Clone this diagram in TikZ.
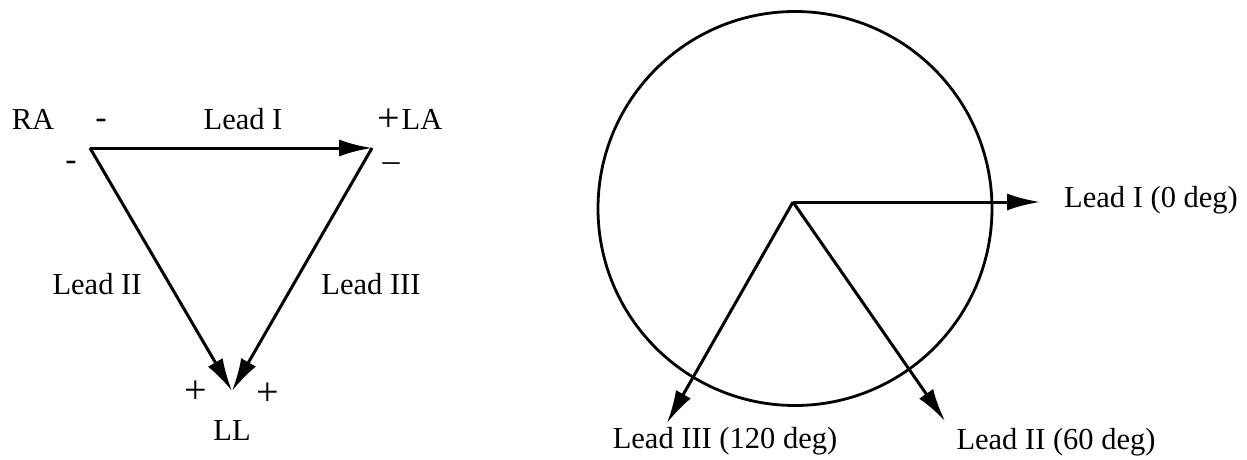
\documentclass[tikz,border=0pt]{standalone}
\usepackage{fontspec}
\setmainfont{Liberation Serif}
\usetikzlibrary{arrows.meta}
\begin{document}
\begin{tikzpicture}[x=1pt,y=-1pt,
  lbl/.style={inner sep=0pt,font=\fontsize{30.5}{36}\selectfont},
  sgn/.style={inner sep=0pt,font=\fontsize{34}{40}\selectfont},
  pls/.style={inner sep=0pt,font=\fontsize{40}{46}\selectfont},
  vec/.style={line width=3pt,-{Latex[length=33pt,width=17pt]}},
  ring/.style={line width=2.8pt}]
\useasboundingbox (0,0) rectangle (1247,460);
% left triangle
\coordinate (RA) at (90,148);
\coordinate (LA) at (372,148);
\coordinate (LL) at (232,391);
\draw[vec] (RA) -- (LA);
\draw[vec] (RA) -- (LL);
\draw[vec] (LA) -- (LL);
\node[lbl] (ra) at (33,119) {RA};
\node[sgn] (ram) at (101,124) {-};
\node[lbl] (l1) at (243,119) {Lead I};
\node[pls] (lap) at (389,120) {+};
\node[lbl] (la) at (422,119) {LA};
\node[sgn] (ram2) at (71,166) {-};
\node[sgn] (lam) at (391,167) {--};
\node[lbl] (l2) at (97,284) {Lead II};
\node[lbl] (l3) at (371,284) {Lead III};
\node[pls] (llp1) at (196,392) {+};
\node[pls] (llp2) at (268,394) {+};
\node[lbl] (ll) at (232,431) {LL};
% right: axes
\coordinate (C) at (793,202);
\draw[ring] (795,208.5) circle (197);
\coordinate (t1) at (1040,202);
\coordinate (t2) at (945,421);
\coordinate (t3) at (667,423);
\draw[vec] (C) -- (t1);
\draw[vec] (C) -- (t2);
\draw[vec] (C) -- (t3);
\node[lbl] (a1) at (1151,200) {Lead I (0 deg)};
\node[lbl] (a2) at (1056,442) {Lead II (60 deg)};
\node[lbl] (a3) at (725,441) {Lead III (120 deg)};
\end{tikzpicture}
\end{document}
